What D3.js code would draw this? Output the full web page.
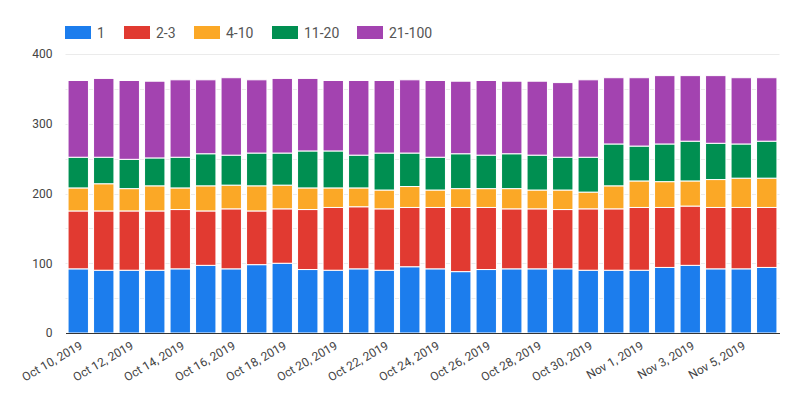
<!DOCTYPE html>
<html><head><meta charset="utf-8">
<script src="https://cdn.jsdelivr.net/npm/d3@7"></script>
<style>body{margin:0;background:#fff;font-family:Roboto,Arial,sans-serif;}</style>
</head><body><svg id="c" width="807" height="402"></svg>
<script>
const dates = ["Oct 10, 2019","Oct 11, 2019","Oct 12, 2019","Oct 13, 2019","Oct 14, 2019","Oct 15, 2019","Oct 16, 2019","Oct 17, 2019","Oct 18, 2019","Oct 19, 2019","Oct 20, 2019","Oct 21, 2019","Oct 22, 2019","Oct 23, 2019","Oct 24, 2019","Oct 25, 2019","Oct 26, 2019","Oct 27, 2019","Oct 28, 2019","Oct 29, 2019","Oct 30, 2019","Oct 31, 2019","Nov 1, 2019","Nov 2, 2019","Nov 3, 2019","Nov 4, 2019","Nov 5, 2019","Nov 6, 2019"];
const seriesNames = ["1","2-3","4-10","11-20","21-100"];
const s1     = [92,90,90,90,92,97,92,98,100,91,90,92,90,95,92,88,91,92,92,92,90,90,90,94,97,92,92,94];
const s2_3   = [83,85,85,85,85,78,86,77,78,86,90,89,88,85,88,92,89,86,86,85,88,88,90,86,85,88,88,86];
const s4_10  = [33,39,32,36,31,36,34,36,34,31,28,27,27,30,25,27,27,29,27,28,24,33,38,37,36,40,42,42];
const s11_20 = [44,38,42,40,44,46,43,47,46,53,53,47,53,48,47,50,48,50,50,47,50,60,50,54,57,52,49,53];
const s21_100= [110,113,113,110,111,106,111,105,107,104,101,107,104,105,110,104,107,104,106,107,111,95,98,98,94,97,95,91];
const colors = ["#1c7ded","#e13a31","#fba826","#008f51","#a343b0"];
const yTicks = [0,100,200,300,400];
const yMinor = [50,150,250,350];
const tickDates = dates.filter((d,i)=>i%2===0);

const rows = dates.map((d,i)=>({date:d,"1":s1[i],"2-3":s2_3[i],"4-10":s4_10[i],"11-20":s11_20[i],"21-100":s21_100[i]}));
const stack = d3.stack().keys(seriesNames)(rows);

const svg = d3.select("#c");
const pL=65.5, pR=779.5, pT=54, pB=333;
const x = d3.scaleBand().domain(dates).range([pL,pR]).paddingInner(0.2).paddingOuter(0.1);
const y = d3.scaleLinear().domain([0,400]).range([pB,pT]);

// gridlines
svg.append("g").selectAll("line").data(yMinor.concat(yTicks.slice(1))).join("line")
  .attr("x1",pL).attr("x2",pR).attr("y1",d=>Math.round(y(d))+0.5).attr("y2",d=>Math.round(y(d))+0.5)
  .attr("stroke","#ebebeb").attr("stroke-width",1);

// bars
svg.append("g").selectAll("g").data(stack).join("g").attr("fill",(d,i)=>colors[i])
  .selectAll("rect").data(d=>d).join("rect")
  .attr("x",d=>x(d.data.date)).attr("width",x.bandwidth())
  .attr("y",d=>y(d[1])).attr("height",d=>y(d[0])-y(d[1]))
  .attr("stroke","#fff").attr("stroke-width",1);

// y axis labels
const ya = svg.append("g").attr("transform",`translate(${pL},0)`)
  .call(d3.axisLeft(y).tickValues(yTicks).tickSize(0).tickPadding(13));
ya.select(".domain").remove();
ya.selectAll("text").attr("font-family","Roboto,Arial,sans-serif").attr("font-size",12).attr("fill","#444");

// x axis
const xa = svg.append("g").attr("transform",`translate(0,${pB})`)
  .call(d3.axisBottom(x).tickValues(tickDates).tickSize(0).tickPadding(8));
xa.select(".domain").attr("stroke","#333").attr("stroke-width",1.2);
xa.selectAll("text").attr("font-family","Roboto,Arial,sans-serif").attr("font-size",12).attr("fill","#444")
  .attr("text-anchor","end").attr("x",0).attr("y",0).attr("dy",0)
  .attr("transform","translate(5,15) rotate(-30)");

// legend
const legX = [65,124,194,272,357];
const lg = svg.append("g").selectAll("g").data(seriesNames).join("g")
  .attr("transform",(d,i)=>`translate(${legX[i]},26)`);
lg.append("rect").attr("width",26).attr("height",13).attr("fill",(d,i)=>colors[i]);
lg.append("text").attr("x",32).attr("y",11.5).text(d=>d)
  .attr("font-family","Roboto,Arial,sans-serif").attr("font-size",14).attr("fill","#555");
</script></body></html>
